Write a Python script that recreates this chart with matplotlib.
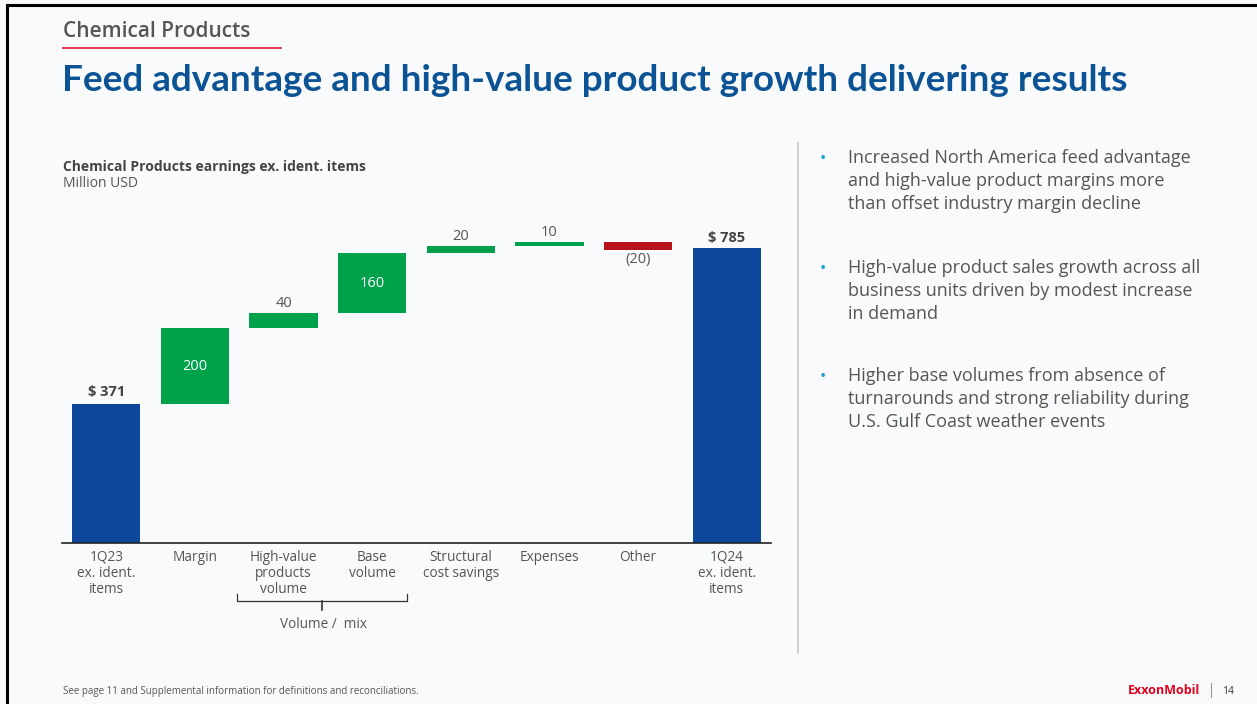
import matplotlib
matplotlib.use("Agg")
import matplotlib.pyplot as plt
from matplotlib.lines import Line2D

# ---------------- data ----------------
categories = ["1Q23\nex. ident.\nitems", "Margin", "High-value\nproducts\nvolume",
              "Base\nvolume", "Structural\ncost savings", "Expenses", "Other",
              "1Q24\nex. ident.\nitems"]
start_value = 371
changes = [200, 40, 160, 20, 10, -20]
end_value = 785
labels = ["$ 371", "200", "40", "160", "20", "10", "(20)", "$ 785"]

bullets = [
    ["Increased North America feed advantage", "and high-value product margins more",
     "than offset industry margin decline"],
    ["High-value product sales growth across all", "business units driven by modest increase",
     "in demand"],
    ["Higher base volumes from absence of", "turnarounds and strong reliability during",
     "U.S. Gulf Coast weather events"],
]

# ---------------- style ----------------
W, H = 1257, 704
DPI = 100
BLUE = "#0d479c"
GREEN = "#00a14b"
RED = "#b5121b"
GRAY = "#555555"
TITLE_BLUE = "#0b5394"
FONT = ["Open Sans", "DejaVu Sans"]
plt.rcParams["font.family"] = FONT

fig = plt.figure(figsize=(W / DPI, H / DPI), dpi=DPI)
fig.patch.set_facecolor("#f9fafc")


def fx(px):
    return px / W


def fy(py):
    return 1 - py / H


# frame lines (left and top)
fig.add_artist(Line2D([fx(7), fx(7)], [0, fy(5)], color="black", lw=2.2))
fig.add_artist(Line2D([fx(7), 1], [fy(5), fy(5)], color="black", lw=2.2))

# header
fig.text(fx(63), fy(37), "Chemical Products", fontsize=15, fontweight="semibold",
         color="#555555", ha="left", va="baseline")
fig.add_artist(Line2D([fx(63), fx(281)], [fy(48), fy(48)], color="#e8112d", lw=1.2))
fig.text(fx(62), fy(91), "Feed advantage and high-value product growth delivering results",
         fontsize=26.6, fontweight="bold", color=TITLE_BLUE, ha="left", va="baseline",
         family=["Lato", "DejaVu Sans"])

# chart title
fig.text(fx(63), fy(171), "Chemical Products earnings ex. ident. items", fontsize=10,
         fontweight="bold", color="#444444", ha="left", va="baseline")
fig.text(fx(63), fy(187), "Million USD", fontsize=10, color=GRAY, ha="left", va="baseline")

# ---------------- waterfall axes ----------------
ax_left, ax_right, ax_bottom, ax_top = 62, 771, 543, 200
px_per_unit = (543 - 248) / end_value
ymax = (ax_bottom - ax_top) / px_per_unit
ax = fig.add_axes([fx(ax_left), fy(ax_bottom), fx(ax_right - ax_left),
                   (ax_bottom - ax_top) / H])
ax.set_facecolor("none")
ax.set_xlim(-0.5, len(categories) - 0.5)
ax.set_ylim(0, ymax)
for s in ["top", "right", "left"]:
    ax.spines[s].set_visible(False)
ax.spines["bottom"].set_color("#222222")
ax.spines["bottom"].set_linewidth(1.2)
ax.set_yticks([])
ax.set_xticks(range(len(categories)))
ax.set_xticklabels(categories, fontsize=9.8, color=GRAY, linespacing=1.1)
ax.tick_params(axis="x", length=0, pad=5)

bw = 0.77
ax.bar(0, start_value, width=bw, color=BLUE)
cum = start_value
for i, c in enumerate(changes, start=1):
    bottom = cum if c >= 0 else cum + c
    color = GREEN if c >= 0 else RED
    ax.bar(i, abs(c), bottom=bottom, width=bw, color=color)
    cum += c
n = len(categories) - 1
ax.bar(n, end_value, width=bw, color=BLUE)

# labels
ax.annotate(labels[0], (0, start_value), xytext=(0, 3), textcoords="offset points",
            ha="center", va="bottom", fontsize=10.5, fontweight="bold", color="#444444")
ax.annotate(labels[-1], (n, end_value), xytext=(0, 2), textcoords="offset points",
            ha="center", va="bottom", fontsize=10.5, fontweight="bold", color="#444444")
cum = start_value
for i, c in enumerate(changes, start=1):
    lab = labels[i]
    if abs(c) >= 100:
        ax.text(i, cum + c / 2, lab, ha="center", va="center", fontsize=10.5, color="white")
    elif c >= 0:
        ax.annotate(lab, (i, cum + c), xytext=(0, 1.5), textcoords="offset points",
                    ha="center", va="bottom", fontsize=10.5, color=GRAY)
    else:
        ax.annotate(lab, (i, cum + c), xytext=(0, -2), textcoords="offset points",
                    ha="center", va="top", fontsize=10.5, color=GRAY)
    cum += c

# bracket under volume / mix
bx0, bx1, by = 237, 407, 601
fig.add_artist(Line2D([fx(bx0), fx(bx0), fx(bx1), fx(bx1)],
                      [fy(594), fy(by), fy(by), fy(594)], color="#333333", lw=0.9))
fig.add_artist(Line2D([fx(322), fx(322)], [fy(by), fy(610)], color="#333333", lw=1.2))
fig.text(fx(323), fy(628), "Volume /  mix", fontsize=9.8, color=GRAY, ha="center",
         va="baseline")

# separator
fig.add_artist(Line2D([fx(798), fx(798)], [fy(143), fy(653)], color="#c8c8c8", lw=1.2))

# bullets
bullet_y = [163, 273, 381]
line_gap = 22.8
for y, lines in zip(bullet_y, bullets):
    fig.text(fx(820), fy(y), "•", fontsize=12, color="#1a9ad6", ha="left", va="baseline")
    for k, t in enumerate(lines):
        fig.text(fx(848), fy(y + k * line_gap), t, fontsize=13, color=GRAY, ha="left",
                 va="baseline")

# footer
fig.text(fx(63), fy(694), "See page 11 and Supplemental information for definitions and reconciliations.",
         fontsize=7, color=GRAY, ha="left", va="baseline")
fig.text(fx(1128), fy(694), "ExxonMobil", fontsize=9, fontweight="bold", color="#e3001b",
         ha="left", va="baseline")
fig.add_artist(Line2D([fx(1211), fx(1211)], [fy(683), fy(697)], color="#999999", lw=0.8))
fig.text(fx(1222), fy(694), "14", fontsize=7.5, color="#333333", ha="left", va="baseline")

fig.savefig("out.png", dpi=DPI, facecolor=fig.get_facecolor())
